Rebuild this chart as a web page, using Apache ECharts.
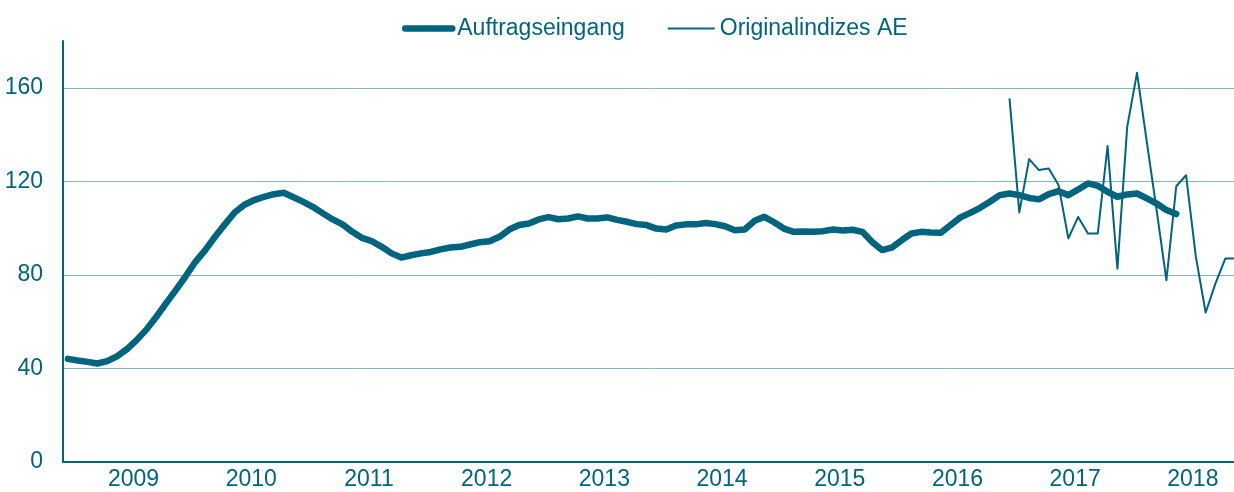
<!DOCTYPE html>
<html>
<head>
<meta charset="utf-8">
<script src="https://cdn.jsdelivr.net/npm/echarts@6/dist/echarts.min.js"></script>
<style>
    html, body { margin: 0; padding: 0; background: #fff; overflow: hidden; }
    /* plot runs a few pixels past the right edge of the window, as in the source image */
    #chart { width: 1240px; height: 492px; }
</style>
</head>
<body>
<div id="chart"></div>
<script>
// monthly categories, Dec 2008 .. Nov 2018
const firstMonth = { year: 2008, month: 12 };
const monthCount = 120;
const yearLabels = ['2009', '2010', '2011', '2012', '2013', '2014', '2015', '2016', '2017', '2018'];

// Auftragseingang (smoothed), Dec 2008 .. May 2018
const auftragseingang = [
    44.1, 43.4, 42.8, 42.1, 43.1, 45.2, 48.2, 52.1, 56.6, 62.0, 67.8, 73.5,
    79.4, 85.6, 90.6, 96.3, 101.6, 106.7, 110.0, 112.0, 113.4, 114.5, 115.1, 113.2,
    111.2, 109.0, 106.3, 103.7, 101.6, 98.4, 95.8, 94.4, 92.0, 89.2, 87.4, 88.4,
    89.2, 89.8, 90.9, 91.7, 92.0, 93.0, 94.0, 94.4, 96.3, 99.4, 101.3, 102.0,
    103.7, 104.7, 103.8, 104.1, 105.0, 104.1, 104.1, 104.6, 103.5, 102.7, 101.7, 101.3,
    99.8, 99.4, 101.1, 101.6, 101.6, 102.2, 101.7, 100.8, 99.1, 99.4, 103.1, 104.8,
    102.5, 99.8, 98.4, 98.5, 98.4, 98.7, 99.4, 99.0, 99.3, 98.4, 94.1, 90.6,
    91.7, 94.8, 97.7, 98.4, 98.1, 98.0, 101.3, 104.6, 106.5, 108.7, 111.3, 114.1,
    114.8, 114.1, 112.9, 112.3, 114.5, 115.8, 114.1, 116.5, 119.1, 118.1, 115.5, 113.4,
    114.4, 114.8, 112.7, 110.5, 107.7, 106.0
];

// Originalindizes AE, Dec 2016 .. Nov 2018
const originalStart = 96;
const originalindizes = [
    155.5, 106.7, 129.5, 124.8, 125.5, 118.4, 95.6, 104.8, 97.7, 97.7, 135.1, 82.7,
    143.3, 166.4, 136.9, 107.7, 77.7, 117.9, 122.6, 87.7, 63.9, 76.4, 87.0, 87.0
];

const months = [];
for (let i = 0; i < monthCount; i++) {
    const m = firstMonth.month - 1 + i;
    const y = firstMonth.year + Math.floor(m / 12);
    months.push(y + '-' + String((m % 12) + 1).padStart(2, '0'));
}
const originalData = new Array(originalStart).fill(null).concat(originalindizes);

const teal = '#00647f';
const font = 'Liberation Sans, Arial, sans-serif';

const chart = echarts.init(document.getElementById('chart'));

const option = {
    animation: false,
    textStyle: { fontFamily: font },
    legend: {
        left: 397,
        top: 12,
        itemWidth: 47,
        itemHeight: 14,
        itemGap: 42,
        textStyle: { color: teal, fontSize: 23, fontFamily: font },
        data: [
            {
                name: 'Auftragseingang',
                itemStyle: { opacity: 0 },
                lineStyle: { width: 6.5, color: teal, cap: 'round' }
            },
            {
                name: 'Originalindizes AE',
                itemStyle: { opacity: 0 },
                lineStyle: { width: 2, color: teal }
            }
        ]
    },
    grid: {
        left: 63,
        top: 41,
        right: 0,
        bottom: 30,
        containLabel: false
    },
    xAxis: {
        type: 'category',
        boundaryGap: true,
        data: months,
        axisLine: { lineStyle: { color: teal, width: 2 } },
        axisTick: { show: false },
        splitLine: { show: false },
        axisLabel: {
            color: teal,
            fontSize: 23,
            fontFamily: font,
            margin: 6,
            padding: [0, 6, 0, 0],
            interval: (idx, val) => val.slice(5) === '07',
            formatter: val => {
                const y = val.slice(0, 4);
                return yearLabels.includes(y) ? y : '';
            }
        }
    },
    yAxis: {
        type: 'value',
        min: 0,
        max: 180,
        interval: 40,
        axisLine: { show: true, lineStyle: { color: teal, width: 2 } },
        axisTick: { show: false },
        axisLabel: {
            color: teal,
            fontSize: 23,
            fontFamily: font,
            margin: 20,
            showMaxLabel: false,
            formatter: v => (v > 160 ? '' : String(v))
        },
        splitLine: {
            show: true,
            showMaxLine: false,
            lineStyle: { color: '#86b3c0', width: 1 }
        }
    },
    series: [
        {
            name: 'Auftragseingang',
            type: 'line',
            data: auftragseingang,
            symbol: 'none',
            color: teal,
            lineStyle: { width: 6.5, color: teal, cap: 'round', join: 'round' },
            z: 2
        },
        {
            name: 'Originalindizes AE',
            type: 'line',
            data: originalData,
            symbol: 'none',
            color: teal,
            lineStyle: { width: 2, color: teal, join: 'round' },
            z: 3
        }
    ]
};

chart.setOption(option);
</script>
</body>
</html>
